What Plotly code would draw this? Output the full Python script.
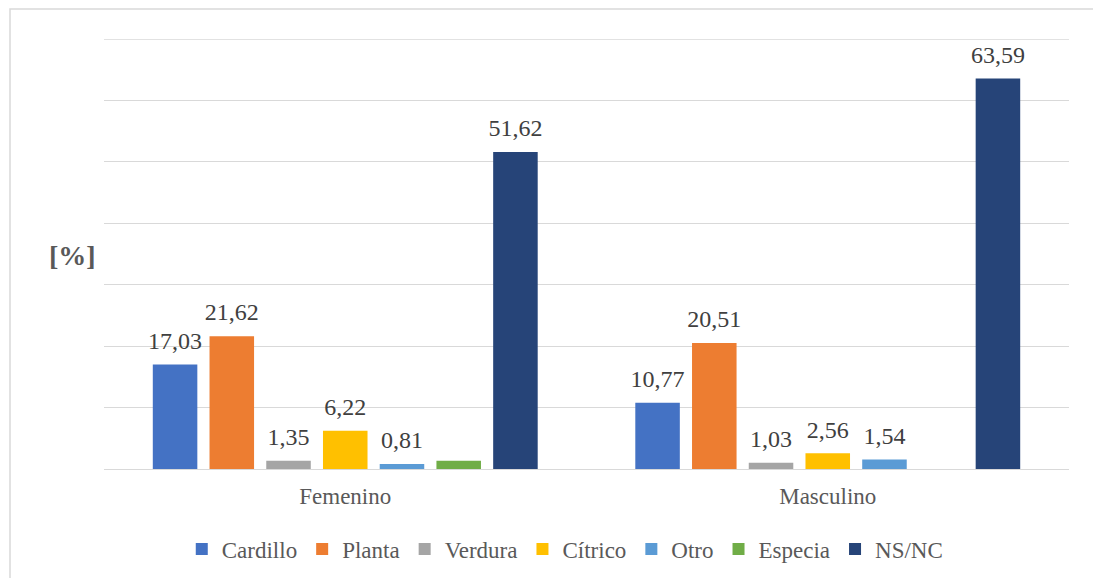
import plotly.graph_objects as go

categories = ["Femenino", "Masculino"]
series_names = ["Cardillo", "Planta", "Verdura", "Cítrico", "Otro", "Especia", "NS/NC"]
cardillo = [17.03, 10.77]
planta = [21.62, 20.51]
verdura = [1.35, 1.03]
citrico = [6.22, 2.56]
otro = [0.81, 1.54]
especia = [1.35, 0]
nsnc = [51.62, 63.59]
show_label = {
    "Cardillo": [True, True],
    "Planta": [True, True],
    "Verdura": [True, True],
    "Cítrico": [True, True],
    "Otro": [True, True],
    "Especia": [False, False],
    "NS/NC": [True, True],
}
y_ticks = [0, 10, 20, 30, 40, 50, 60, 70]
colors = ["#4472C4", "#ED7D31", "#A5A5A5", "#FFC000", "#5B9BD5", "#70AD47", "#264478"]
values = [cardillo, planta, verdura, citrico, otro, especia, nsnc]

font_fam = "Liberation Serif, Times New Roman, serif"
grey = "#595959"
gridc = "#D9D9D9"
GAP = 0.177

fig = go.Figure()
for name, vals, col in zip(series_names, values, colors):
    fig.add_trace(go.Bar(
        name=name, x=categories, y=vals, marker=dict(color=col, line=dict(width=0)),
        hoverinfo="skip",
    ))
# value labels: grouped text-only scatter traces aligned with the bar slots
for name, vals in zip(series_names, values):
    txt = [f"{v:.2f}".replace(".", ",") if s else "" for v, s in zip(vals, show_label[name])]
    fig.add_trace(go.Scatter(
        x=categories, y=vals, mode="markers+text", text=txt, textposition="top center",
        marker=dict(size=14, opacity=0), showlegend=False, cliponaxis=False,
        textfont=dict(family=font_fam, size=24, color="#404040"), hoverinfo="skip",
    ))

# page has an 8px body margin; figure sized so that it fills the window
W, H = 1093, 570
ml, mr, mt, mb = 96, 32, 31, 109
pw, ph = W - ml - mr, H - mt - mb

fig.update_layout(
    width=W, height=H, barmode="group", bargap=GAP, bargroupgap=0.215,
    scattermode="group", scattergap=GAP,
    margin=dict(l=ml, r=mr, t=mt, b=mb, autoexpand=False),
    plot_bgcolor="white", paper_bgcolor="white",
    font=dict(family=font_fam, color=grey, size=23),
    separators=",.",
    xaxis=dict(showgrid=False, showline=False, ticks="", ticklabelstandoff=11,
               tickfont=dict(size=23, color=grey)),
    yaxis=dict(range=[y_ticks[0], y_ticks[-1]], tickvals=y_ticks, showticklabels=False, showgrid=True,
               gridcolor=gridc, gridwidth=1.3, zeroline=True, zerolinecolor=gridc, zerolinewidth=1.3),
    legend=dict(orientation="h", x=0.478, xanchor="center", y=-0.136, yanchor="top",
                font=dict(size=23, color=grey), itemwidth=30, traceorder="normal"),
    showlegend=True,
)
# top gridline (plotly omits the one lying on the plot edge)
fig.add_shape(type="line", xref="paper", yref="y", x0=0, x1=1, y0=y_ticks[-1], y1=y_ticks[-1],
              line=dict(color=gridc, width=1.3), layer="below")
fig.add_annotation(text="<b>[%]</b>", xref="paper", yref="paper", xanchor="center", yanchor="middle",
                   x=(64 - ml) / pw, y=(H - mb - 247) / ph, showarrow=False,
                   font=dict(size=28, color=grey, family=font_fam))
fig.add_shape(type="rect", xref="paper", yref="paper",
              x0=(2 - ml) / pw, x1=(1090 - ml) / pw,
              y0=(H - mb - 600) / ph, y1=(H - mb - 1) / ph,
              line=dict(color=gridc, width=1.5), fillcolor="rgba(0,0,0,0)", layer="below")

fig.write_html("out.html")
